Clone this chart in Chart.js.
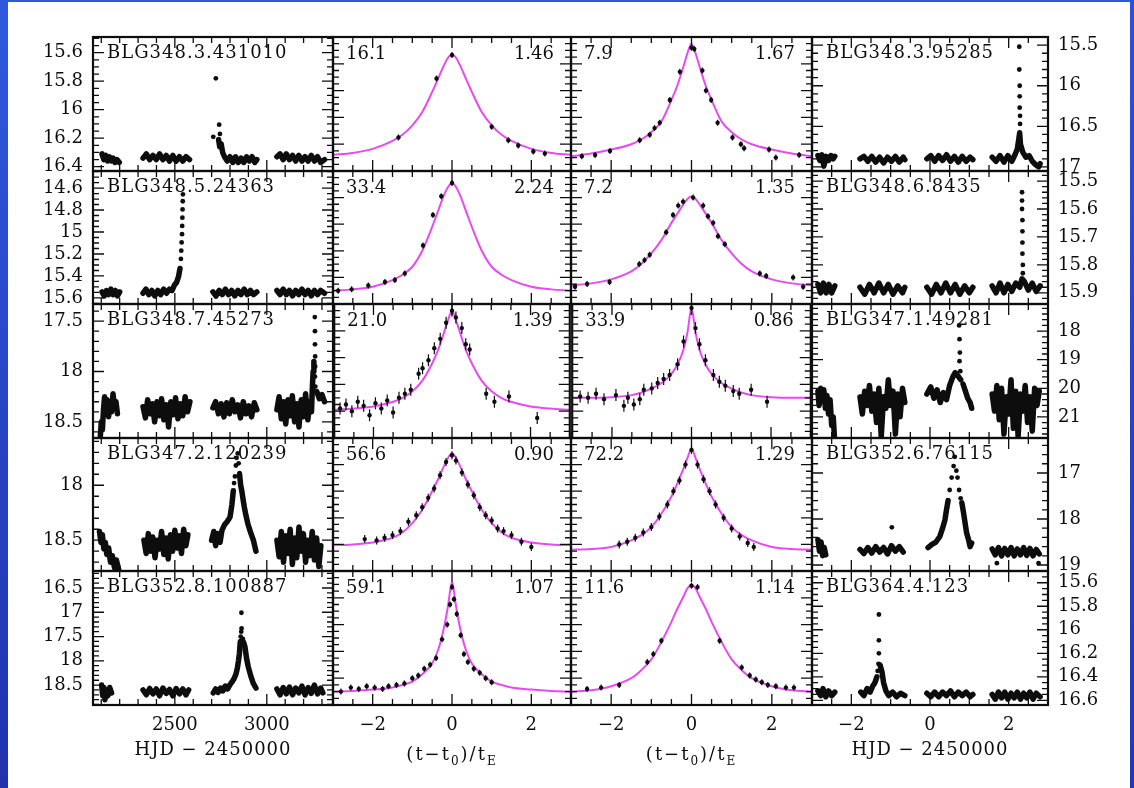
<!DOCTYPE html>
<html lang="en">
<head>
<meta charset="UTF-8">
<meta name="viewport" content="width=device-width, initial-scale=1.0">
<title>Microlensing light curves</title>
<script src="https://cdn.jsdelivr.net/npm/chart.js"></script>
<style>
  body { margin: 0; width: 1134px; height: 788px; overflow: hidden; background: #fff; position: relative; }
  .edge { position: absolute; }
  .edge.left { left: 0; top: 0; width: 8px; height: 788px; background: linear-gradient(#2f59dd, #2132ae); }
  .edge.top { left: 0; top: 0; width: 1134px; height: 2px; background: #2f59dd; }
  .edge.right { right: 0; top: 0; width: 4px; height: 788px; background: linear-gradient(#2d50d8, #2335bb); }
  canvas { position: absolute; }
</style>
</head>
<body>
<div class="edge left"></div>
<div class="edge top"></div>
<div class="edge right"></div>
<script>
// panel labels
const namesA = ['BLG348.3.431010', 'BLG348.5.24363', 'BLG348.7.45273', 'BLG347.2.120239', 'BLG352.8.100887'];
const namesD = ['BLG348.3.95285', 'BLG348.6.8435', 'BLG347.1.49281', 'BLG352.6.76115', 'BLG364.4.123'];
const leftNumB = ['16.1', '33.4', '21.0', '56.6', '59.1'];
const rightNumB = ['1.46', '2.24', '1.39', '0.90', '1.07'];
const leftNumC = ['7.9', '7.2', '33.9', '72.2', '11.6'];
const rightNumC = ['1.67', '1.35', '0.86', '1.29', '1.14'];

// axes
const hjdRange = [2055, 3360];
const hjdTicks = [2500, 3000];
const phaseRange = [-3, 3];
const phaseTicks = [-2, 0, 2];
const magRangeA = [[15.49, 16.43], [14.445, 15.655], [17.33, 18.66], [17.57, 18.78], [16.15, 18.91]];
const magTicksA = [[15.6, 15.8, 16, 16.2, 16.4], [14.6, 14.8, 15, 15.2, 15.4, 15.6], [17.5, 18, 18.5], [18, 18.5], [16.5, 17, 17.5, 18, 18.5]];
const minorA = [0.05, 0.05, 0.1, 0.1, 0.1];
const magRangeD = [[15.40, 17.05], [15.464, 15.94], [17.05, 21.74], [16.24, 19.13], [15.50, 16.64]];
const magTicksD = [[15.5, 16, 16.5, 17], [15.5, 15.6, 15.7, 15.8, 15.9], [18, 19, 20, 21], [17, 18, 19], [15.6, 15.8, 16, 16.2, 16.4, 16.6]];
const minorD = [0.1, 0.02, 0.2, 0.2, 0.05];

// left column light curves (HJD, mag); null separates seasons
const lcA1 = [[2104,16.31],[2114,16.35],[2124,16.32],[2134,16.36],[2144,16.33],[2154,16.36],[2164,16.34],[2174,16.37],[2186,16.35],[2198,16.37], null,
  [2327,16.34],[2345,16.31],[2363,16.35],[2381,16.32],[2399,16.35],[2417,16.31],[2435,16.35],[2453,16.32],[2471,16.36],[2489,16.32],[2507,16.36],[2525,16.33],[2543,16.36],[2561,16.33],[2580,16.35], null,
  [2738,16.21],[2744,16.26],[2752,16.24],[2760,16.3],[2770,16.33],[2785,16.36],[2800,16.33],[2815,16.37],[2830,16.33],[2845,16.37],[2860,16.34],[2875,16.37],[2890,16.33],[2905,16.36],[2920,16.33],[2935,16.37],[2946,16.35], null,
  [3055,16.33],[3072,16.31],[3089,16.35],[3106,16.31],[3123,16.35],[3140,16.32],[3157,16.36],[3174,16.32],[3191,16.36],[3208,16.33],[3225,16.36],[3242,16.32],[3259,16.36],[3276,16.33],[3293,16.37],[3314,16.35]];
const pkA1 = [[2723,15.78],[2741,16.105],[2709,16.19],[2745,16.17]];

const lcA2 = [[2104,15.545],[2116,15.582],[2128,15.532],[2140,15.57],[2152,15.52],[2164,15.57],[2176,15.532],[2188,15.582],[2200,15.545], null,
  [2327,15.557],[2343,15.52],[2359,15.57],[2375,15.532],[2391,15.582],[2407,15.532],[2423,15.57],[2439,15.52],[2455,15.557],[2471,15.52],[2485,15.532],[2498,15.482],[2510,15.457],[2520,15.407],[2528,15.332], null,
  [2707,15.545],[2724,15.582],[2741,15.532],[2758,15.57],[2775,15.52],[2792,15.57],[2809,15.532],[2826,15.582],[2843,15.532],[2860,15.57],[2877,15.52],[2894,15.57],[2911,15.532],[2928,15.57],[2946,15.545], null,
  [3055,15.532],[3072,15.57],[3089,15.52],[3106,15.57],[3123,15.532],[3140,15.582],[3157,15.532],[3174,15.57],[3191,15.52],[3208,15.57],[3225,15.532],[3242,15.582],[3259,15.532],[3276,15.57],[3293,15.532],[3314,15.557]];
const pkA2 = [[2533,15.245],[2535,15.17],[2537,15.095],[2539,15.02],[2540,14.945],[2541,14.87],[2542,14.795],[2543,14.72],[2544,14.657]];

const lcA3 = [[2095,18.64],[2100,18.5],[2106,18.58],[2112,18.38],[2118,18.25],[2124,18.4],[2132,18.28],[2140,18.45],[2148,18.3],[2156,18.4],[2164,18.22],[2172,18.36],[2180,18.3],[2188,18.42], null,
  [2327,18.35],[2340,18.46],[2352,18.28],[2365,18.42],[2378,18.32],[2390,18.5],[2403,18.3],[2416,18.44],[2428,18.27],[2440,18.48],[2453,18.33],[2466,18.55],[2478,18.3],[2491,18.43],[2504,18.26],[2517,18.47],[2530,18.32],[2543,18.44],[2556,18.25],[2569,18.4],[2582,18.3], null,
  [2707,18.36],[2722,18.3],[2737,18.42],[2752,18.32],[2767,18.45],[2782,18.31],[2797,18.42],[2812,18.28],[2827,18.4],[2842,18.33],[2857,18.46],[2872,18.3],[2887,18.42],[2902,18.34],[2917,18.45],[2932,18.31],[2946,18.38], null,
  [3055,18.38],[3067,18.25],[3079,18.47],[3091,18.3],[3103,18.52],[3115,18.28],[3127,18.44],[3139,18.24],[3151,18.5],[3163,18.32],[3175,18.55],[3187,18.28],[3199,18.45],[3211,18.22],[3223,18.48],[3235,18.3],[3243,18.4],[3248,18.15],[3252,18.0],[3256,17.9], null,
  [3272,18.2],[3286,18.27],[3300,18.23],[3314,18.3]];
const pkA3 = [[3261,17.46],[3262,17.6],[3262,17.73],[3263,17.85],[3263,17.95],[3262,18.05],[3264,18.15]];

const lcA4 = [[2090,18.42],[2098,18.52],[2106,18.45],[2114,18.58],[2122,18.52],[2130,18.63],[2140,18.57],[2150,18.7],[2160,18.64],[2172,18.75],[2182,18.68],[2195,18.77], null,
  [2332,18.5],[2344,18.62],[2356,18.44],[2368,18.6],[2380,18.47],[2392,18.66],[2404,18.5],[2416,18.58],[2428,18.42],[2440,18.63],[2452,18.48],[2464,18.67],[2476,18.45],[2488,18.6],[2500,18.41],[2512,18.57],[2524,18.46],[2536,18.62],[2548,18.4],[2560,18.55],[2571,18.45], null,
  [2700,18.5],[2712,18.42],[2722,18.55],[2734,18.44],[2746,18.52],[2756,18.41],[2770,18.36],[2785,18.33],[2800,18.29],[2810,18.18],[2818,18.05], null,
  [2852,17.9],[2858,18.0],[2865,18.06],[2872,18.14],[2878,18.2],[2886,18.27],[2897,18.35],[2910,18.42],[2927,18.5],[2941,18.6], null,
  [3055,18.5],[3067,18.65],[3079,18.42],[3091,18.7],[3103,18.46],[3115,18.62],[3127,18.4],[3139,18.72],[3151,18.48],[3163,18.66],[3175,18.38],[3187,18.6],[3199,18.44],[3211,18.7],[3223,18.5],[3235,18.64],[3247,18.42],[3259,18.68],[3271,18.48],[3283,18.74],[3294,18.55]];
const pkA4 = [[2822,17.98],[2827,17.92],[2832,17.82],[2836,17.75],[2842,17.71],[2847,17.8],[2852,17.89]];

const lcA5 = [[2102,18.5],[2108,18.72],[2114,18.55],[2120,18.8],[2128,18.6],[2136,18.72],[2146,18.55],[2156,18.66], null,
  [2327,18.6],[2345,18.7],[2363,18.57],[2381,18.68],[2399,18.58],[2417,18.72],[2435,18.56],[2453,18.67],[2471,18.59],[2489,18.72],[2507,18.57],[2525,18.68],[2543,18.58],[2561,18.7],[2575,18.6], null,
  [2709,18.66],[2722,18.58],[2735,18.65],[2748,18.56],[2761,18.62],[2774,18.52],[2787,18.58],[2800,18.49],[2810,18.44],[2820,18.38],[2832,18.28],[2840,18.15],[2846,18.0],[2851,17.85],[2856,17.6], null,
  [2874,17.62],[2881,17.71],[2890,17.95],[2899,18.12],[2912,18.3],[2926,18.46],[2941,18.56], null,
  [3055,18.58],[3072,18.7],[3089,18.55],[3106,18.68],[3123,18.54],[3140,18.7],[3157,18.56],[3174,18.66],[3191,18.52],[3208,18.7],[3225,18.55],[3242,18.67],[3259,18.5],[3276,18.68],[3293,18.56],[3305,18.66]];
const pkA5 = [[2858,17.5],[2861,17.4],[2863,17.33],[2862,17.01],[2870,17.55]];

// right column light curves (plotted on the -3..3 axis), null separates seasons
const lcD1 = [[-2.85,16.86],[-2.8,16.92],[-2.75,16.85],[-2.7,16.99],[-2.64,16.87],[-2.58,16.92],[-2.52,16.86],[-2.46,16.9],[-2.42,16.87], null,
  [-1.78,16.9],[-1.68,16.87],[-1.58,16.93],[-1.48,16.87],[-1.38,16.94],[-1.28,16.88],[-1.18,16.95],[-1.08,16.88],[-0.98,16.93],[-0.88,16.87],[-0.78,16.94],[-0.68,16.88],[-0.64,16.91], null,
  [-0.08,16.9],[0.02,16.86],[0.12,16.93],[0.22,16.86],[0.32,16.92],[0.42,16.85],[0.52,16.93],[0.62,16.87],[0.72,16.94],[0.82,16.87],[0.92,16.93],[1.02,16.88],[1.09,16.91], null,
  [1.58,16.88],[1.68,16.93],[1.78,16.86],[1.88,16.94],[1.98,16.86],[2.08,16.93],[2.16,16.85],[2.22,16.78],[2.26,16.65],[2.28,16.58],[2.3,16.72],[2.36,16.82],[2.44,16.88],[2.52,16.86],[2.6,16.93],[2.68,16.97],[2.76,17.0],[2.8,16.96]];
const pkD1 = [[2.27,15.52],[2.27,15.8],[2.28,16.0],[2.28,16.13],[2.28,16.27],[2.29,16.37],[2.29,16.47]];

const lcD2 = [[-2.85,15.87],[-2.78,15.9],[-2.71,15.865],[-2.64,15.9],[-2.57,15.87],[-2.5,15.9],[-2.42,15.875], null,
  [-1.78,15.88],[-1.66,15.905],[-1.54,15.87],[-1.42,15.9],[-1.3,15.865],[-1.18,15.9],[-1.06,15.87],[-0.94,15.905],[-0.82,15.875],[-0.7,15.9],[-0.64,15.88], null,
  [-0.08,15.88],[0.04,15.905],[0.16,15.87],[0.28,15.9],[0.4,15.865],[0.52,15.9],[0.64,15.87],[0.76,15.905],[0.88,15.875],[1.0,15.9],[1.09,15.88], null,
  [1.58,15.875],[1.68,15.9],[1.78,15.865],[1.88,15.9],[1.98,15.87],[2.08,15.895],[2.18,15.865],[2.28,15.88],[2.34,15.85],[2.4,15.86],[2.5,15.89],[2.6,15.865],[2.7,15.895],[2.8,15.875]];
const pkD2 = [[2.34,15.54],[2.34,15.57],[2.34,15.6],[2.35,15.64],[2.35,15.68],[2.35,15.72],[2.35,15.76],[2.36,15.8],[2.36,15.83]];

const lcD3 = [[-2.85,20.1],[-2.82,20.6],[-2.78,20.0],[-2.74,20.45],[-2.7,20.05],[-2.66,20.7],[-2.62,20.25],[-2.58,20.9],[-2.54,20.4],[-2.5,21.3],[-2.46,21.0],[-2.43,21.7], null,
  [-1.78,20.3],[-1.72,20.9],[-1.66,20.1],[-1.6,20.6],[-1.54,19.9],[-1.48,20.8],[-1.42,20.2],[-1.36,21.2],[-1.3,20.0],[-1.24,21.7],[-1.18,20.3],[-1.12,20.7],[-1.06,19.7],[-1.0,20.6],[-0.94,20.1],[-0.88,21.6],[-0.82,20.2],[-0.76,21.0],[-0.7,20.0],[-0.64,20.5], null,
  [-0.08,20.2],[0.02,19.95],[0.1,20.35],[0.18,20.05],[0.26,20.5],[0.34,20.15],[0.42,20.4],[0.5,19.9],[0.58,19.6],[0.64,19.45],[0.7,19.55],[0.78,19.7], null,
  [0.84,19.85],[0.9,20.1],[0.96,20.35],[1.02,20.5],[1.06,20.7], null,
  [1.58,20.2],[1.64,20.8],[1.7,19.9],[1.76,21.1],[1.82,20.0],[1.88,21.6],[1.94,20.3],[2.0,20.9],[2.06,19.7],[2.12,21.4],[2.18,20.1],[2.24,21.7],[2.3,20.2],[2.36,20.8],[2.42,19.9],[2.48,21.2],[2.54,20.3],[2.6,21.5],[2.66,20.0],[2.72,20.6],[2.78,20.1]];
const pkD3 = [[0.74,17.8],[0.75,18.28],[0.76,18.75],[0.75,19.05],[0.77,19.4]];

const lcD4 = [[-2.85,18.45],[-2.81,18.7],[-2.77,18.5],[-2.73,18.8],[-2.69,18.62],[-2.65,18.78], null,
  [-1.78,18.66],[-1.68,18.75],[-1.58,18.62],[-1.48,18.74],[-1.38,18.6],[-1.28,18.72],[-1.18,18.62],[-1.08,18.76],[-0.98,18.58],[-0.88,18.7],[-0.78,18.6],[-0.68,18.72], null,
  [-0.05,18.62],[0.05,18.55],[0.15,18.5],[0.25,18.38],[0.32,18.2],[0.38,18.02],[0.42,17.8],[0.46,17.6], null,
  [0.81,17.65],[0.85,17.85],[0.88,18.02],[0.93,18.3],[0.98,18.45],[1.02,18.6],[1.06,18.52], null,
  [1.58,18.65],[1.66,18.78],[1.74,18.62],[1.82,18.8],[1.9,18.64],[1.98,18.78],[2.06,18.62],[2.14,18.8],[2.22,18.65],[2.3,18.78],[2.38,18.62],[2.46,18.79],[2.54,18.64],[2.62,18.8],[2.7,18.66],[2.78,18.76]];
const pkD4 = [[0.5,17.37],[0.55,17.1],[0.6,16.85],[0.63,16.65],[0.67,16.95],[0.7,17.1],[0.74,17.37],[0.78,17.55],[-0.97,18.18],[1.7,18.96],[2.76,18.96]];

const lcD5 = [[-2.85,16.52],[-2.78,16.56],[-2.72,16.5],[-2.65,16.57],[-2.58,16.52],[-2.5,16.56],[-2.42,16.53], null,
  [-1.76,16.53],[-1.68,16.56],[-1.6,16.5],[-1.52,16.53],[-1.46,16.48],[-1.4,16.45],[-1.35,16.4], null,
  [-1.27,16.3],[-1.22,16.36],[-1.18,16.45],[-1.12,16.52],[-1.05,16.56],[-0.95,16.53],[-0.85,16.57],[-0.75,16.54],[-0.64,16.56], null,
  [-0.08,16.54],[0.02,16.57],[0.12,16.53],[0.22,16.57],[0.32,16.53],[0.42,16.56],[0.52,16.52],[0.62,16.57],[0.72,16.53],[0.82,16.56],[0.92,16.53],[1.02,16.57],[1.09,16.55], null,
  [1.58,16.55],[1.66,16.59],[1.74,16.53],[1.82,16.58],[1.9,16.53],[1.98,16.59],[2.06,16.54],[2.14,16.58],[2.22,16.53],[2.3,16.59],[2.38,16.54],[2.46,16.58],[2.54,16.53],[2.62,16.59],[2.7,16.54],[2.8,16.57]];
const pkD5 = [[-1.3,15.87],[-1.3,16.09],[-1.3,16.2],[-1.31,16.29],[-1.33,16.35]];

// model fits (relative flux, 0 = panel bottom, 1 = panel top) sampled at modelX
const modelX = [-3, -2.5, -2, -1.5, -1.25, -1, -0.75, -0.5, -0.35, -0.2, -0.1, 0, 0.1, 0.2, 0.35, 0.5, 0.75, 1, 1.25, 1.5, 2, 2.5, 3];
const fitB1 = [0.12, 0.135, 0.165, 0.225, 0.27, 0.34, 0.44, 0.59, 0.69, 0.79, 0.845, 0.87, 0.845, 0.79, 0.69, 0.59, 0.44, 0.34, 0.27, 0.225, 0.165, 0.135, 0.12];
const fitC1 = [0.11, 0.13, 0.16, 0.2, 0.235, 0.29, 0.37, 0.53, 0.64, 0.78, 0.88, 0.95, 0.88, 0.78, 0.64, 0.53, 0.37, 0.29, 0.235, 0.2, 0.16, 0.13, 0.11];
const fitB2 = [0.10, 0.11, 0.13, 0.18, 0.22, 0.28, 0.40, 0.58, 0.70, 0.82, 0.88, 0.91, 0.88, 0.82, 0.70, 0.58, 0.40, 0.28, 0.22, 0.18, 0.13, 0.11, 0.10];
const fitC2 = [0.14, 0.155, 0.185, 0.245, 0.3, 0.38, 0.48, 0.61, 0.68, 0.75, 0.79, 0.81, 0.79, 0.75, 0.68, 0.61, 0.48, 0.38, 0.3, 0.245, 0.185, 0.155, 0.14];
const fitB3 = [0.21, 0.22, 0.235, 0.27, 0.3, 0.35, 0.43, 0.56, 0.66, 0.79, 0.88, 0.95, 0.88, 0.79, 0.66, 0.56, 0.43, 0.35, 0.3, 0.27, 0.235, 0.22, 0.21];
const fitC3 = [0.3, 0.3, 0.305, 0.32, 0.34, 0.37, 0.41, 0.48, 0.55, 0.66, 0.79, 0.97, 0.79, 0.66, 0.55, 0.48, 0.41, 0.37, 0.34, 0.32, 0.305, 0.3, 0.3];
const fitB4 = [0.195, 0.2, 0.215, 0.25, 0.29, 0.36, 0.46, 0.6, 0.69, 0.79, 0.85, 0.885, 0.85, 0.79, 0.69, 0.6, 0.46, 0.36, 0.29, 0.25, 0.215, 0.2, 0.195];
const fitC4 = [0.16, 0.165, 0.18, 0.23, 0.27, 0.33, 0.43, 0.56, 0.66, 0.77, 0.85, 0.92, 0.85, 0.77, 0.66, 0.56, 0.43, 0.33, 0.27, 0.23, 0.18, 0.165, 0.16];
const fitB5 = [0.1, 0.105, 0.115, 0.13, 0.15, 0.175, 0.23, 0.31, 0.41, 0.58, 0.74, 0.92, 0.74, 0.58, 0.41, 0.31, 0.23, 0.175, 0.15, 0.13, 0.115, 0.105, 0.1];
const fitC5 = [0.1, 0.11, 0.14, 0.2, 0.26, 0.34, 0.47, 0.62, 0.72, 0.81, 0.87, 0.895, 0.87, 0.81, 0.72, 0.62, 0.47, 0.34, 0.26, 0.2, 0.14, 0.11, 0.1];

// folded observations
const obsB1 = [[-1.35,0.25],[-0.39,0.69],[0,0.866],[1.0,0.33],[1.42,0.23],[1.67,0.19],[2.05,0.145],[2.34,0.13]];
const obsC1 = [[-2.73,0.11],[-2.4,0.12],[-2.03,0.15],[-1.29,0.23],[-1.04,0.27],[-0.92,0.32],[-0.79,0.36],[-0.54,0.53],[-0.29,0.74],[0,0.92],[0.07,0.91],[0.27,0.75],[0.36,0.6],[0.49,0.53],[0.65,0.36],[1.02,0.25],[1.23,0.2],[1.31,0.17],[1.93,0.16],[2.1,0.1],[2.68,0.12]];
const obsB2 = [[-2.87,0.1],[-2.53,0.11],[-2.11,0.14],[-1.69,0.165],[-1.44,0.18],[-1.19,0.23],[-0.73,0.44],[-0.48,0.67],[-0.27,0.81],[0,0.91]];
const obsC2 = [[-2.9,0.13],[-2.6,0.15],[-2.04,0.165],[-1.3,0.3],[-1.17,0.33],[-1.04,0.37],[-0.63,0.54],[-0.46,0.67],[-0.33,0.74],[-0.21,0.77],[0.04,0.8],[0.29,0.74],[0.41,0.66],[0.54,0.61],[0.66,0.51],[0.83,0.45],[1.7,0.23],[1.86,0.21],[2.53,0.2],[2.78,0.13]];
const obsB3 = [[-2.85,0.22],[-2.7,0.25],[-2.55,0.2],[-2.4,0.27],[-2.25,0.24],[-2.1,0.17],[-1.95,0.26],[-1.8,0.22],[-1.65,0.28],[-1.5,0.19],[-1.35,0.3],[-1.2,0.33],[-1.05,0.36],[-0.85,0.48],[-0.75,0.52],[-0.6,0.58],[-0.45,0.67],[-0.3,0.74],[-0.15,0.86],[0,0.95],[0.1,0.9],[0.25,0.82],[0.35,0.7],[0.45,0.66],[0.87,0.33],[1.08,0.27],[1.45,0.31],[2.17,0.15]];
const obsC3 = [[-2.8,0.31],[-2.6,0.3],[-2.4,0.33],[-2.2,0.29],[-1.9,0.32],[-1.7,0.24],[-1.6,0.3],[-1.45,0.25],[-1.3,0.29],[-1.2,0.36],[-1.0,0.37],[-0.85,0.41],[-0.7,0.44],[-0.55,0.47],[-0.35,0.55],[-0.2,0.72],[0,0.97],[0.1,0.82],[0.2,0.7],[0.35,0.58],[0.55,0.47],[0.7,0.42],[0.85,0.39],[1.05,0.35],[1.2,0.33],[1.5,0.36],[1.9,0.27]];
const obsB4 = [[-2.2,0.24],[-1.9,0.23],[-1.7,0.25],[-1.5,0.27],[-1.3,0.3],[-1.1,0.37],[-0.9,0.42],[-0.75,0.48],[-0.6,0.55],[-0.45,0.62],[-0.3,0.72],[-0.15,0.82],[0,0.87],[0.1,0.83],[0.25,0.74],[0.4,0.65],[0.55,0.57],[0.7,0.48],[0.85,0.42],[1.0,0.38],[1.15,0.32],[1.3,0.3],[1.5,0.27],[1.75,0.22],[2.0,0.18]];
const obsC4 = [[-1.8,0.2],[-1.6,0.22],[-1.4,0.25],[-1.2,0.29],[-1.0,0.33],[-0.8,0.41],[-0.6,0.5],[-0.45,0.6],[-0.3,0.68],[-0.15,0.8],[0,0.91],[0.15,0.8],[0.3,0.69],[0.45,0.6],[0.6,0.5],[0.8,0.4],[1.0,0.32],[1.2,0.26],[1.4,0.21],[1.55,0.18]];
const obsB5 = [[-2.8,0.1],[-2.55,0.13],[-2.35,0.12],[-2.15,0.14],[-1.95,0.13],[-1.75,0.12],[-1.6,0.14],[-1.4,0.15],[-1.2,0.16],[-1.0,0.2],[-0.85,0.22],[-0.7,0.27],[-0.55,0.3],[-0.4,0.35],[-0.25,0.49],[-0.12,0.6],[-0.05,0.75],[0,0.88],[0.05,0.79],[0.12,0.68],[0.22,0.52],[0.3,0.38],[0.4,0.32],[0.55,0.27],[0.7,0.24],[0.85,0.2],[1.0,0.17]];
const obsC5 = [[-2.6,0.12],[-2.25,0.13],[-1.8,0.15],[-1.1,0.32],[-0.95,0.38],[-0.75,0.48],[0,0.89],[0.15,0.88],[0.7,0.48],[1.25,0.28],[1.45,0.22],[1.6,0.19],[1.75,0.17],[1.9,0.15],[2.1,0.14],[2.35,0.13],[2.55,0.13]];

// layout of the grid on the page
const colX = [93, 333, 571, 812, 1048];
const rowY = [37, 171, 304, 438, 571, 705];
const ink = '#0d0d0d';
const magenta = '#e84af2';
const family = "'DejaVu Serif', serif";
const errLen = [3, 3, 6, 4, 3];

const fmt = v => String(+(+v).toFixed(2)).replace('-', '\u2212');

function lightSets(lc, pk) {
  const sets = [];
  let seg = [];
  const flush = () => {
    if (seg.length) sets.push({ data: seg, showLine: true, borderColor: ink, borderWidth: 5.5, borderJoinStyle: 'round', borderCapStyle: 'round', pointRadius: 0 });
    seg = [];
  };
  lc.forEach(p => { if (p === null) flush(); else seg.push({ x: p[0], y: p[1] }); });
  flush();
  sets.push({ data: pk.map(p => ({ x: p[0], y: p[1] })), pointRadius: 2.4, backgroundColor: ink, borderWidth: 0 });
  return sets;
}

function fitSets(fit, obs, err) {
  const pts = obs.map(p => ({ x: p[0], y: p[1] }));
  return [
    { data: pts, pointRadius: 2.2, backgroundColor: ink, borderWidth: 0, order: 0 },
    { data: pts, pointStyle: 'line', rotation: 90, pointRadius: err, borderColor: ink, borderWidth: 1.2, order: 1 },
    { data: modelX.map((x, i) => ({ x, y: fit[i] })), showLine: true, borderColor: magenta, borderWidth: 2, pointRadius: 0, cubicInterpolationMode: 'monotone', order: 2 }
  ];
}

// frame, inward ticks and in-panel text
const panelDeco = {
  id: 'panelDeco',
  afterDatasetsDraw(chart, args, o) {
    const { ctx, chartArea: a, scales: { x, y } } = chart;
    ctx.save();
    ctx.strokeStyle = ink;
    ctx.lineWidth = 1.3;
    const marks = (scale, minor, major, horiz) => {
      const lo = Math.min(scale.min, scale.max), hi = Math.max(scale.min, scale.max);
      for (let k = Math.ceil(lo / minor - 1e-6); k * minor <= hi + 1e-9; k++) {
        const v = k * minor;
        const q = v / major;
        const len = Math.abs(q - Math.round(q)) < 1e-6 ? 11 : 6;
        const p = scale.getPixelForValue(v);
        ctx.beginPath();
        if (horiz) {
          ctx.moveTo(p, a.top); ctx.lineTo(p, a.top + len);
          ctx.moveTo(p, a.bottom); ctx.lineTo(p, a.bottom - len);
        } else {
          ctx.moveTo(a.left, p); ctx.lineTo(a.left + len, p);
          ctx.moveTo(a.right, p); ctx.lineTo(a.right - len, p);
        }
        ctx.stroke();
      }
    };
    marks(x, o.xMinor, o.xMajor, true);
    marks(y, o.yMinor, o.yMajor, false);
    ctx.lineWidth = 2.2;
    ctx.strokeRect(a.left, a.top, a.right - a.left, a.bottom - a.top);

    ctx.fillStyle = ink;
    ctx.font = '18px ' + family;
    ctx.textBaseline = 'middle';
    if (o.name) {
      ctx.letterSpacing = '1px';
      ctx.textAlign = 'left';
      ctx.fillText(o.name, a.left + 14, a.top + 16);
      ctx.letterSpacing = '0px';
    }
    if (o.leftNum) {
      ctx.textAlign = 'left';
      ctx.fillText(o.leftNum, a.left + 13, a.top + 17);
      ctx.textAlign = 'right';
      ctx.fillText(o.rightNum, a.right - 17, a.top + 17);
    }
    const cx = (a.left + a.right) / 2;
    if (o.title === 'hjd') {
      ctx.letterSpacing = '1px';
      ctx.textAlign = 'center';
      ctx.fillText('HJD \u2212 2450000', cx, a.bottom + 45);
      ctx.letterSpacing = '0px';
    } else if (o.title === 'phase') {
      const parts = [['(t\u2212t', 18, 0], ['0', 12, 7], [')/t', 18, 0], ['E', 12, 7]];
      ctx.letterSpacing = '2px';
      ctx.textAlign = 'left';
      let total = 0;
      parts.forEach(p => { ctx.font = p[1] + 'px ' + family; total += ctx.measureText(p[0]).width; });
      let px = cx - total / 2;
      parts.forEach(p => {
        ctx.font = p[1] + 'px ' + family;
        ctx.fillText(p[0], px, a.bottom + 50 + p[2]);
        px += ctx.measureText(p[0]).width;
      });
      ctx.letterSpacing = '0px';
    }
    ctx.restore();
  }
};

const lcA = [lcA1, lcA2, lcA3, lcA4, lcA5];
const pkA = [pkA1, pkA2, pkA3, pkA4, pkA5];
const lcD = [lcD1, lcD2, lcD3, lcD4, lcD5];
const pkD = [pkD1, pkD2, pkD3, pkD4, pkD5];
const fitB = [fitB1, fitB2, fitB3, fitB4, fitB5];
const fitC = [fitC1, fitC2, fitC3, fitC4, fitC5];
const obsB = [obsB1, obsB2, obsB3, obsB4, obsB5];
const obsC = [obsC1, obsC2, obsC3, obsC4, obsC5];

const tickFont = { family: family, size: 18 };

for (let r = 0; r < 5; r++) {
  for (let c = 0; c < 4; c++) {
    const padL = c === 0 ? colX[0] : 6;
    const padR = c === 3 ? 1134 - colX[4] : 6;
    const padT = 24;
    const padB = r === 4 ? 788 - rowY[5] : 24;
    const cv = document.createElement('canvas');
    cv.width = colX[c + 1] - colX[c] + padL + padR;
    cv.height = rowY[r + 1] - rowY[r] + padT + padB;
    cv.style.left = (colX[c] - padL) + 'px';
    cv.style.top = (rowY[r] - padT) + 'px';
    document.body.appendChild(cv);

    const hjd = c === 0;
    const mag = c === 0 || c === 3;
    const bottomRow = r === 4;
    const yTicks = c === 0 ? magTicksA[r] : magTicksD[r];
    const yRange = c === 0 ? magRangeA[r] : c === 3 ? magRangeD[r] : [0, 1];
    const xTicks = hjd ? hjdTicks : phaseTicks;

    let datasets;
    if (c === 0) datasets = lightSets(lcA[r], pkA[r]);
    else if (c === 3) datasets = lightSets(lcD[r], pkD[r]);
    else if (c === 1) datasets = fitSets(fitB[r], obsB[r], errLen[r]);
    else datasets = fitSets(fitC[r], obsC[r], errLen[r]);

    new Chart(cv, {
      type: 'scatter',
      data: { datasets },
      options: {
        responsive: false,
        animation: false,
        devicePixelRatio: 1,
        events: [],
        layout: { padding: { left: c === 0 ? 0 : padL, right: c === 3 ? 0 : padR, top: padT, bottom: bottomRow ? 0 : padB } },
        plugins: {
          legend: { display: false },
          tooltip: { enabled: false },
          panelDeco: {
            xMajor: xTicks[1] - xTicks[0], xMinor: hjd ? 100 : 0.5,
            yMajor: mag ? yTicks[1] - yTicks[0] : 0.2,
            yMinor: c === 0 ? minorA[r] : c === 3 ? minorD[r] : 0.05,
            name: c === 0 ? namesA[r] : c === 3 ? namesD[r] : '',
            leftNum: c === 1 ? leftNumB[r] : c === 2 ? leftNumC[r] : '',
            rightNum: c === 1 ? rightNumB[r] : c === 2 ? rightNumC[r] : '',
            title: bottomRow ? (c === 1 || c === 2 ? 'phase' : 'hjd') : ''
          }
        },
        scales: {
          x: {
            type: 'linear', position: 'bottom',
            min: hjd ? hjdRange[0] : phaseRange[0], max: hjd ? hjdRange[1] : phaseRange[1],
            display: bottomRow,
            grid: { display: false, drawTicks: false }, border: { display: false },
            afterBuildTicks: s => { s.ticks = xTicks.map(v => ({ value: v })); },
            afterFit: s => { if (bottomRow) s.height = padB; },
            ticks: { callback: fmt, font: tickFont, color: ink, padding: 10, maxRotation: 0, autoSkip: false }
          },
          y: {
            type: 'linear', position: c === 3 ? 'right' : 'left',
            min: yRange[0], max: yRange[1], reverse: mag,
            display: mag,
            grid: { display: false, drawTicks: false }, border: { display: false },
            afterBuildTicks: s => { if (mag) s.ticks = yTicks.map(v => ({ value: v })); },
            afterFit: s => { if (mag) s.width = c === 0 ? padL : padR; },
            ticks: { callback: fmt, font: tickFont, color: ink, padding: 10, autoSkip: false }
          }
        }
      },
      plugins: [panelDeco]
    });
  }
}
</script>
</body>
</html>
